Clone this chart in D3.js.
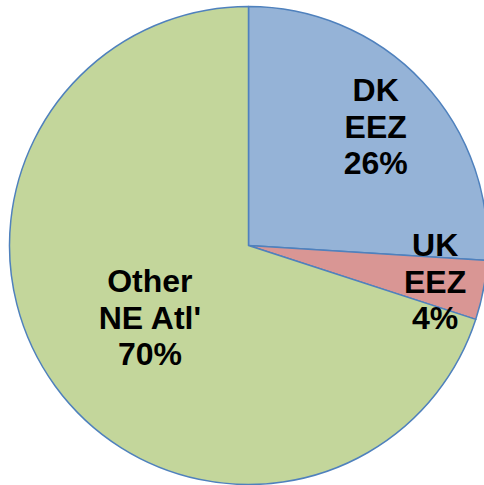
<!DOCTYPE html>
<html>
<head>
<meta charset="utf-8">
<script src="https://cdn.jsdelivr.net/npm/d3@7"></script>
<style>
  html, body { margin: 0; padding: 0; background: #fff; overflow: hidden; }
  svg { display: block; }
</style>
</head>
<body>
<div id="chart"></div>
<script>
// ── Data ──
const labels = [['DK', 'EEZ'], ['UK', 'EEZ'], ['Other', "NE Atl'"]];
const values = [26, 4, 70];
const colors = ['#95B3D7', '#D99694', '#C3D69B'];
// label distance from centre, as fraction of radius (Excel best-fit look)
const labelRadius = [0.73, 0.795, 0.51];

const width = 484, height = 485;
const cx = 248.5, cy = 245.5, radius = 239;

const svg = d3.select('#chart')
  .append('svg')
  .attr('width', width)
  .attr('height', height);

const g = svg.append('g')
  .attr('transform', `translate(${cx},${cy})`);

const pie = d3.pie().value(d => d).sort(null);
const arc = d3.arc().innerRadius(0).outerRadius(radius);
const slices = pie(values);

g.selectAll('path')
  .data(slices)
  .enter()
  .append('path')
  .attr('d', arc)
  .attr('fill', (d, i) => colors[i])
  .attr('stroke', '#4F81BD')
  .attr('stroke-width', 1.5)
  .attr('stroke-linejoin', 'round');

// ── Labels ──
const lineH = 36.5;
slices.forEach((d, i) => {
  const r = radius * labelRadius[i];
  const la = d3.arc().innerRadius(r).outerRadius(r);
  const [lx, ly] = la.centroid(d);
  const lines = [...labels[i], `${values[i]}%`];
  const t = g.append('text')
    .attr('text-anchor', 'middle')
    .attr('font-family', 'Arial, "Liberation Sans", sans-serif')
    .attr('font-weight', 'bold')
    .attr('font-size', '32px')
    .attr('fill', '#000');
  lines.forEach((s, j) => {
    t.append('tspan')
      .attr('x', lx)
      .attr('y', ly + (j - 1) * lineH + 11.5)
      .text(s);
  });
});
</script>
</body>
</html>
